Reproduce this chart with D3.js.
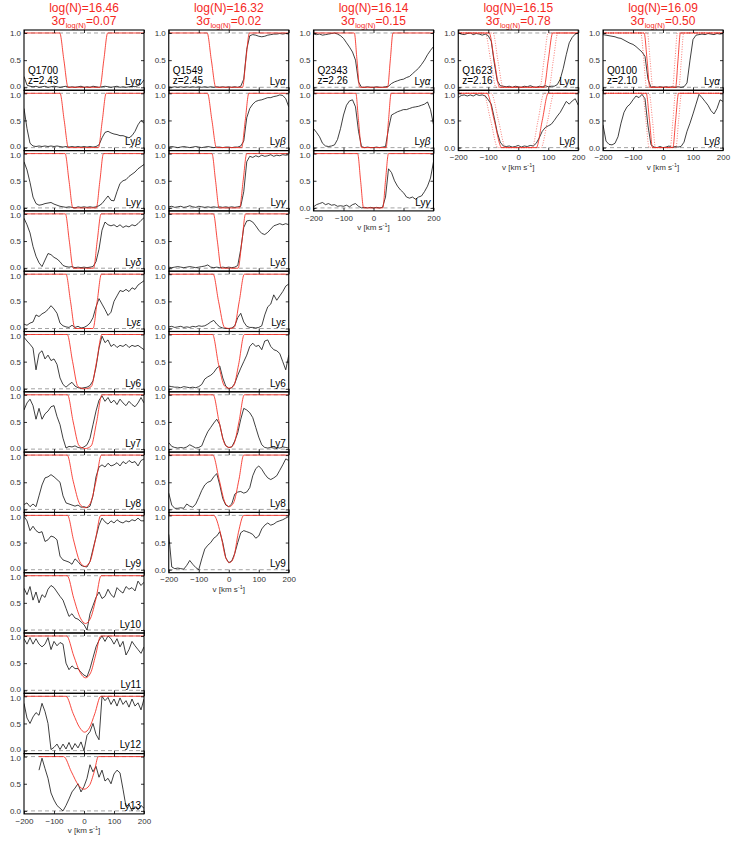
<!DOCTYPE html>
<html lang="en">
<head>
<meta charset="UTF-8">
<title>Lyman series fits</title>
<script src="https://d3js.org/d3.v7.min.js"></script>
<style>
  body { margin: 0; background: #fff; }
  text { font-family: "Liberation Sans", Arial, Helvetica, sans-serif; }
</style>
</head>
<body>
<script>
// quasar sightlines, one column each
var quasars = ['Q1700', 'Q1549', 'Q2343', 'Q1623', 'Q0100']
var redshifts = ['2.43', '2.45', '2.26', '2.16', '2.10']
var logN = ['16.46', '16.32', '16.14', '16.15', '16.09']
var sigma3 = ['0.07', '0.02', '0.15', '0.78', '0.50']

// transition names (greek ones drawn in italic)
var lineNames = ['α', 'β', 'γ', 'δ', 'ε', '6', '7', '8', '9', '10', '11', '12', '13']

// x ticks
var velTicks = [-200, -100, 0, 100, 200]
var fluxTicks = [0, 0.5, 1]

// velocity grid (km/s) for all spectra
var velocity = [-200,-190,-180,-170,-160,-150,-140,-130,-120,-110,
                -100,-90,-80,-70,-60,-50,-40,-30,-20,-10,
                0,10,20,30,40,50,60,70,80,90,
                100,110,120,130,140,150,160,170,180,190,200]

// normalised flux
var fluxQ1700 = [
  [0.20,0.04,0.02,0.01,0.02,0.00,0.01,0.02,0.00,0.01, 0.02,0.01,0.00,0.01,0.02,0.00,0.01,0.00,0.01,0.02, 0.00,0.01,0.00,0.02,0.01,0.00,0.01,0.02,0.01,0.00, 0.01,0.02,0.00,0.01,0.00,0.01,0.02,0.01,0.03,0.06,0.14],
  [0.72,0.35,0.08,0.03,0.02,0.03,0.02,0.03,0.02,0.03, 0.02,0.03,0.02,0.01,0.02,0.01,0.02,0.01,0.02,0.01, 0.02,0.01,0.02,0.01,0.02,0.05,0.18,0.28,0.30,0.27, 0.25,0.24,0.22,0.22,0.20,0.18,0.22,0.30,0.42,0.50,0.45],
  [0.85,0.70,0.47,0.20,0.08,0.05,0.06,0.08,0.09,0.10, 0.07,0.05,0.03,0.02,0.01,0.02,0.01,0.00,0.02,0.01, 0.02,0.01,0.02,0.01,0.02,0.04,0.08,0.15,0.22,0.14, 0.13,0.30,0.45,0.50,0.52,0.58,0.62,0.66,0.72,0.76,0.80],
  [0.92,0.80,0.65,0.40,0.22,0.10,0.03,0.15,0.27,0.25, 0.20,0.17,0.12,0.05,0.03,0.02,0.03,0.01,0.02,0.01, 0.02,0.01,0.02,0.03,0.12,0.35,0.70,0.85,0.80,0.78, 0.80,0.76,0.80,0.75,0.78,0.76,0.80,0.78,0.82,0.88,0.93],
  [0.08,0.06,0.10,0.12,0.25,0.22,0.27,0.30,0.35,0.42, 0.36,0.28,0.10,0.05,0.03,0.02,0.06,0.02,0.04,0.01, 0.02,0.05,0.10,0.20,0.40,0.55,0.45,0.35,0.24,0.30, 0.50,0.60,0.70,0.68,0.72,0.68,0.75,0.72,0.80,0.84,0.88],
  [0.95,0.88,0.82,0.75,0.35,0.65,0.70,0.55,0.62,0.52, 0.55,0.45,0.20,0.08,0.03,0.08,0.12,0.05,0.02,0.01, 0.02,0.03,0.06,0.15,0.40,0.75,0.97,0.85,0.90,0.78, 0.82,0.76,0.80,0.78,0.82,0.76,0.80,0.78,0.80,0.76,0.72],
  [0.72,0.85,0.92,0.80,0.55,0.75,0.55,0.65,0.70,0.78, 0.80,0.60,0.45,0.20,0.02,0.05,0.04,0.06,0.03,0.02, 0.04,0.08,0.20,0.45,0.70,0.90,0.98,0.88,0.95,0.85, 0.90,0.82,0.92,0.85,0.80,0.88,0.82,0.78,0.85,0.95,0.85],
  [0.09,0.12,0.05,0.10,0.05,0.25,0.45,0.58,0.60,0.64, 0.60,0.55,0.50,0.25,0.12,0.10,0.08,0.06,0.08,0.04, 0.05,0.03,0.06,0.25,0.60,0.78,0.82,0.78,0.85,0.80, 0.82,0.86,0.80,0.88,0.84,0.90,0.86,0.88,0.80,0.90,0.93],
  [0.98,0.90,0.72,0.80,0.72,0.68,0.70,0.52,0.55,0.62, 0.60,0.55,0.25,0.18,0.16,0.14,0.10,0.20,0.15,0.08, 0.06,0.05,0.15,0.38,0.60,0.82,0.95,0.88,0.84,0.90, 0.86,0.92,0.88,0.86,0.90,0.88,0.92,0.90,0.95,0.90,0.90],
  [0.77,0.65,0.80,0.55,0.70,0.50,0.65,0.60,0.75,0.82, 0.78,0.70,0.62,0.55,0.40,0.25,0.30,0.22,0.20,0.15, 0.10,0.00,0.30,0.45,0.60,0.70,0.58,0.62,0.75,0.65, 0.60,0.78,0.72,0.68,0.80,0.75,0.78,0.72,0.90,0.82,0.88],
  [0.95,0.85,0.97,0.85,0.95,0.85,0.80,0.85,0.97,0.75, 0.90,0.82,0.88,0.85,0.50,0.38,0.45,0.40,0.40,0.33, 0.28,0.25,0.40,0.60,0.80,0.92,1.00,0.90,1.00,0.95, 0.85,0.95,0.80,0.90,0.65,0.75,0.90,0.82,0.75,0.68,0.80],
  [0.87,0.60,0.50,0.62,0.70,0.65,0.87,0.72,0.50,0.02, 0.06,0.12,0.02,0.12,0.03,0.15,0.02,0.13,0.05,0.16, 0.00,0.28,0.35,0.50,0.30,0.20,1.00,0.92,0.98,0.85, 0.95,0.82,0.97,0.85,0.92,0.80,0.95,0.82,0.88,0.75,0.95],
  [null,null,null,null,null,0.75,0.97,0.78,0.60,0.33, 0.20,0.10,0.05,0.00,0.10,0.22,0.35,0.42,0.50,0.35, 0.45,0.60,0.85,0.72,0.82,0.62,0.75,0.55,0.60,0.50, 0.68,0.75,0.70,0.40,0.08,0.12,0.00,0.08,0.02,0.10,0.05]
]
var fluxQ1549 = [
  [0.01,0.00,0.01,0.00,0.01,0.00,0.01,0.00,0.01,0.00, 0.01,0.00,0.01,0.00,0.01,0.00,0.01,0.00,0.01,0.00, 0.01,0.00,0.01,0.00,0.02,0.15,0.70,0.95,0.97,0.96, 0.94,0.93,0.94,0.96,0.97,0.98,0.98,0.99,0.98,0.99,0.98],
  [0.01,0.02,0.01,0.00,0.01,0.02,0.01,0.00,0.01,0.02, 0.01,0.00,0.01,0.02,0.01,0.00,0.01,0.01,0.00,0.01, 0.01,0.00,0.01,0.01,0.03,0.12,0.55,0.72,0.80,0.85, 0.87,0.88,0.90,0.92,0.92,0.94,0.95,0.97,0.96,0.90,0.75],
  [0.02,0.03,0.01,0.02,0.03,0.01,0.02,0.04,0.02,0.01, 0.03,0.02,0.01,0.02,0.01,0.02,0.01,0.02,0.01,0.02, 0.01,0.02,0.01,0.02,0.03,0.30,0.85,0.95,0.93,0.96, 0.94,0.97,0.95,0.96,0.98,0.95,0.97,0.96,0.98,0.97,0.98],
  [0.02,0.01,0.02,0.03,0.02,0.01,0.02,0.03,0.02,0.01, 0.02,0.03,0.04,0.06,0.02,0.01,0.02,0.01,0.02,0.01, 0.02,0.01,0.02,0.05,0.35,0.75,0.87,0.88,0.85,0.78, 0.70,0.64,0.62,0.66,0.72,0.78,0.80,0.82,0.80,0.82,0.80],
  [0.03,0.04,0.02,0.03,0.04,0.02,0.03,0.02,0.04,0.03, 0.05,0.04,0.05,0.08,0.12,0.15,0.08,0.03,0.01,0.00, 0.00,0.01,0.05,0.20,0.28,0.12,0.04,0.02,0.02,0.01, 0.02,0.05,0.25,0.40,0.45,0.62,0.52,0.60,0.68,0.78,0.82],
  [0.05,0.04,0.03,0.03,0.02,0.04,0.03,0.02,0.03,0.02, 0.04,0.08,0.18,0.22,0.25,0.30,0.38,0.42,0.20,0.05, 0.00,0.02,0.10,0.25,0.38,0.50,0.62,0.78,0.84,0.78, 0.80,0.72,0.88,0.90,0.78,0.72,0.70,0.65,0.50,0.35,0.62],
  [0.12,0.05,0.03,0.02,0.03,0.02,0.04,0.08,0.05,0.02, 0.03,0.06,0.20,0.32,0.40,0.48,0.55,0.45,0.20,0.06, 0.03,0.04,0.15,0.30,0.55,0.75,0.72,0.67,0.58,0.40, 0.22,0.08,0.03,0.02,0.03,0.02,0.03,0.02,0.04,0.03,0.02],
  [0.30,0.08,0.02,0.02,0.03,0.02,0.10,0.06,0.04,0.10, 0.22,0.35,0.45,0.50,0.52,0.60,0.66,0.45,0.20,0.08, 0.05,0.10,0.28,0.32,0.33,0.30,0.32,0.40,0.62,0.75, 0.80,0.74,0.65,0.58,0.55,0.58,0.62,0.72,0.82,0.93,0.90],
  [0.65,0.05,0.02,0.03,0.02,0.01,0.08,0.17,0.10,0.04, 0.00,0.20,0.38,0.45,0.50,0.58,0.62,0.70,0.50,0.22, 0.13,0.16,0.30,0.50,0.68,0.72,0.70,0.68,0.65,0.58, 0.62,0.75,0.82,0.86,0.82,0.84,0.88,0.90,0.92,0.95,0.98]
]
var fluxQ2343 = [
  [0.98,0.97,0.98,0.96,0.97,0.98,0.99,1.00,0.98,0.95, 0.90,0.82,0.74,0.65,0.50,0.10,0.00,0.00,0.01,0.00, 0.00,0.01,0.00,0.00,0.01,0.02,0.07,0.10,0.12,0.14, 0.15,0.18,0.20,0.25,0.30,0.35,0.42,0.50,0.60,0.68,0.75],
  [0.35,0.28,0.20,0.08,0.03,0.02,0.03,0.05,0.15,0.35, 0.60,0.78,0.86,0.88,0.75,0.30,0.02,0.00,0.01,0.00, 0.00,0.01,0.00,0.01,0.02,0.35,0.60,0.63,0.66,0.68, 0.70,0.70,0.72,0.74,0.75,0.76,0.78,0.80,0.84,0.70,0.42],
  [0.02,0.06,0.08,0.10,0.06,0.08,0.05,0.06,0.03,0.04, 0.03,0.05,0.02,0.06,0.08,0.03,0.00,0.01,0.00,0.01, 0.00,0.01,0.00,0.01,0.20,0.72,0.65,0.50,0.40,0.33, 0.28,0.20,0.18,0.20,0.16,0.20,0.22,0.30,0.40,0.55,0.85]
]
var fluxQ1623 = [
  [1.00,0.98,0.97,0.99,1.00,0.97,0.99,0.98,0.96,0.98, 0.95,0.85,0.45,0.12,0.03,0.02,0.01,0.02,0.00,0.02, 0.01,0.00,0.02,0.01,0.03,0.01,0.00,0.02,0.01,0.03, 0.01,0.02,0.02,0.05,0.15,0.35,0.60,0.82,0.92,0.98,1.00],
  [0.92,0.96,0.97,0.95,0.97,0.95,0.98,0.96,0.97,0.95, 0.88,0.80,0.55,0.28,0.10,0.03,0.02,0.03,0.01,0.02, 0.04,0.01,0.03,0.02,0.04,0.03,0.08,0.18,0.30,0.37, 0.40,0.43,0.50,0.58,0.65,0.75,0.85,0.80,0.86,0.90,0.78]
]
var fluxQ0100 = [
  [0.97,0.96,0.95,0.94,0.93,0.91,0.90,0.87,0.84,0.81, 0.79,0.75,0.70,0.65,0.57,0.15,0.00,0.01,0.00,0.01, 0.00,0.01,0.00,0.01,0.00,0.01,0.00,0.01,0.08,0.50, 0.88,0.96,0.97,0.98,0.97,0.99,0.98,0.97,0.99,0.98,0.99],
  [0.42,0.12,0.06,0.05,0.08,0.20,0.45,0.65,0.75,0.80, 0.88,0.95,0.92,0.98,0.90,0.40,0.05,0.01,0.00,0.02, 0.00,0.01,0.03,0.00,0.02,0.01,0.02,0.10,0.30,0.45, 0.62,0.80,0.98,0.92,0.85,0.78,0.68,0.62,0.72,0.88,0.85]
]

// best-fit model profiles, [velocity, flux]
var fitQ1700 = [
  [[-200,1],[-81,1],[-67,0.5],[-53,0],[53,0],[66,0.5],[79,1],[200,1]],
  [[-200,1],[-80,1],[-66,0.5],[-52,0],[48,0],[61,0.5],[74,1],[200,1]],
  [[-200,1],[-63,1],[-50,0.5],[-37,0],[41,0],[53,0.5],[65,1],[200,1]],
  [[-200,1],[-62,1],[-49,0.5],[-36,0],[32,0],[44,0.5],[57,1],[200,1]],
  [[-200,1],[-60,1],[-45,0.5],[-30,0],[30,0],[44,0.5],[58,1],[200,1]],
  [[-200,1],[-56,1],[-38,0.5],[-20,0.04],[2,0],[24,0.04],[42,0.5],[60,1],[200,1]],
  [[-200,1],[-55,1],[-36,0.5],[-16,0.06],[4,0.01],[24,0.06],[42,0.5],[60,1],[200,1]],
  [[-200,1],[-56,1],[-36,0.52],[-14,0.1],[3,0.03],[20,0.1],[40,0.52],[58,1],[200,1]],
  [[-200,1],[-55,1],[-35,0.55],[-14,0.15],[3,0.06],[20,0.15],[38,0.55],[56,1],[200,1]],
  [[-200,1],[-56,1],[-34,0.58],[-12,0.22],[5,0.12],[22,0.22],[40,0.58],[57,1],[200,1]],
  [[-200,1],[-58,1],[-34,0.63],[-12,0.32],[5,0.23],[22,0.32],[38,0.63],[56,1],[200,1]],
  [[-200,1],[-60,1],[-36,0.68],[-14,0.42],[2,0.34],[18,0.42],[36,0.68],[56,1],[200,1]],
  [[-150,1],[-68,1],[-42,0.72],[-18,0.47],[0,0.4],[18,0.47],[34,0.72],[48,1],[200,1]]
]
var fitQ1549 = [
  [[-200,1],[-72,1],[-58,0.5],[-43,0],[46,0],[57,0.5],[69,1],[200,1]],
  [[-200,1],[-71,1],[-56,0.5],[-41,0],[43,0],[55,0.5],[67,1],[200,1]],
  [[-200,1],[-56,1],[-44,0.5],[-32,0],[36,0],[48,0.5],[60,1],[200,1]],
  [[-200,1],[-51,1],[-38,0.5],[-25,0],[31,0],[44,0.5],[56,1],[200,1]],
  [[-200,1],[-52,1],[-34,0.5],[-14,0.02],[2,0],[18,0.02],[35,0.5],[52,1],[200,1]],
  [[-200,1],[-54,1],[-34,0.45],[-14,0.05],[1,0.01],[16,0.05],[33,0.45],[52,1],[200,1]],
  [[-200,1],[-52,1],[-32,0.5],[-12,0.08],[2,0.03],[16,0.08],[34,0.5],[52,1],[200,1]],
  [[-200,1],[-53,1],[-32,0.55],[-12,0.12],[2,0.05],[16,0.12],[34,0.55],[50,1],[200,1]],
  [[-200,1],[-50,1],[-28,0.68],[-10,0.22],[3,0.13],[16,0.22],[32,0.68],[50,1],[200,1]]
]
var fitQ2343 = [
  [[-200,1],[-64,1],[-55,0.5],[-46,0],[47,0],[56,0.5],[65,1],[200,1]],
  [[-200,1],[-59,1],[-50,0.5],[-40,0],[42,0],[50,0.5],[59,1],[200,1]],
  [[-200,1],[-53,1],[-43,0.5],[-33,0],[31,0],[40,0.5],[50,1],[200,1]]
]
var fitQ1623 = [
  [[-200,1],[-97,1],[-80,0.5],[-62,0],[86,0],[100,0.5],[115,1],[200,1]],
  [[-200,1],[-104,1],[-80,0.5],[-55,0],[60,0],[80,0.5],[100,1],[200,1]]
]
var fitQ0100 = [
  [[-200,1],[-63,1],[-53,0.5],[-44,0],[42,0],[50,0.5],[58,1],[200,1]],
  [[-200,1],[-56,1],[-45,0.5],[-35,0],[33,0],[42,0.5],[52,1],[200,1]]
]
// models at -3 sigma and +3 sigma in log(N) (dotted)
var fitLowQ1623 = [
  [[-200,1],[-84,1],[-68,0.5],[-50,0],[72,0],[86,0.5],[100,1],[200,1]],
  [[-200,1],[-90,1],[-66,0.5],[-42,0],[46,0],[66,0.5],[86,1],[200,1]]
]
var fitHighQ1623 = [
  [[-200,1],[-110,1],[-92,0.5],[-74,0],[102,0],[117,0.5],[132,1],[200,1]],
  [[-200,1],[-116,1],[-92,0.5],[-68,0],[76,0],[98,0.5],[120,1],[200,1]]
]
var fitLowQ0100 = [
  [[-200,1],[-52,1],[-43,0.5],[-34,0],[32,0],[40,0.5],[48,1],[200,1]],
  [[-200,1],[-46,1],[-35,0.5],[-25,0],[24,0],[33,0.5],[42,1],[200,1]]
]
var fitHighQ0100 = [
  [[-200,1],[-74,1],[-64,0.5],[-55,0],[53,0],[61,0.5],[69,1],[200,1]],
  [[-200,1],[-68,1],[-57,0.5],[-46,0],[43,0],[52,0.5],[62,1],[200,1]]
]

var spectra = [fluxQ1700, fluxQ1549, fluxQ2343, fluxQ1623, fluxQ0100]
var fits = [fitQ1700, fitQ1549, fitQ2343, fitQ1623, fitQ0100]
var fitsLow = [null, null, null, fitLowQ1623, fitLowQ0100]
var fitsHigh = [null, null, null, fitHighQ1623, fitHighQ0100]

// layout
var width = 747, height = 845
var colLeft = 24, colStep = 144.75, panelW = 120
var rowTop = 30, rowStep = 60.3
var red = '#f5281e'

var svg = d3.select('body').append('svg')
    .attr('width', width)
    .attr('height', height)

function styleAxis(g) {
    g.select('.domain').remove()
    g.selectAll('line').attr('stroke', '#000').attr('stroke-width', 0.8)
    g.selectAll('text').attr('font-size', 8).attr('fill', '#333')
        .attr('font-family', '"Liberation Sans", Arial, sans-serif')
}

function drawPanel(c, r) {
    var left = colLeft + c * colStep
    var top = rowTop + r * rowStep
    var nRows = spectra[c].length
    var isLast = (r === nRows - 1)

    var x = d3.scaleLinear().domain([-200, 200]).range([left, left + panelW])
    var y = d3.scaleLinear().domain([-0.055, 1.055]).range([top + rowStep, top])

    var g = svg.append('g')
    var clipId = 'clip-' + c + '-' + r
    g.append('clipPath').attr('id', clipId)
        .append('rect')
        .attr('x', left).attr('y', top)
        .attr('width', panelW).attr('height', rowStep)

    var inner = g.append('g').attr('clip-path', 'url(#' + clipId + ')')

    // continuum and zero level
    inner.selectAll('line.ref')
        .data([0, 1])
        .enter().append('line')
        .attr('class', 'ref')
        .attr('x1', left).attr('x2', left + panelW)
        .attr('y1', function(d) { return y(d) })
        .attr('y2', function(d) { return y(d) })
        .attr('stroke', '#999')
        .attr('stroke-width', 0.9)
        .attr('stroke-dasharray', '4,3')

    // observed spectrum
    var pts = velocity.map(function(v, i) { return [v, spectra[c][r][i]] })
    var specLine = d3.line()
        .defined(function(d) { return d[1] !== null })
        .x(function(d) { return x(d[0]) })
        .y(function(d) { return y(d[1]) })
    inner.append('path')
        .attr('d', specLine(pts))
        .attr('fill', 'none')
        .attr('stroke', '#000')
        .attr('stroke-width', 0.75)

    // model curves
    var modelLine = d3.line()
        .curve(d3.curveMonotoneX)
        .x(function(d) { return x(d[0]) })
        .y(function(d) { return y(d[1]) })
    ;[fitsLow[c], fitsHigh[c]].forEach(function(set) {
        if (!set) return
        inner.append('path')
            .attr('d', modelLine(set[r]))
            .attr('fill', 'none')
            .attr('stroke', red)
            .attr('stroke-width', 0.8)
            .attr('stroke-dasharray', '1,1.5')
            .attr('opacity', 0.75)
    })
    inner.append('path')
        .attr('d', modelLine(fits[c][r]))
        .attr('fill', 'none')
        .attr('stroke', red)
        .attr('stroke-width', 0.85)

    // axes, ticks pointing inwards
    var yAxis = g.append('g')
        .attr('transform', 'translate(' + left + ',0)')
        .call(d3.axisLeft(y).tickValues(fluxTicks).tickSize(-3).tickPadding(3)
            .tickFormat(d3.format('.1f')))
        .call(styleAxis)
    // keep the 0.0 / 1.0 labels of stacked panels apart
    yAxis.selectAll('.tick text')
        .attr('dy', function(d) {
            if (d === 1 && r > 0) return '0.5em'
            if (d === 0 && !isLast) return '0.15em'
            return '0.32em'
        })
    g.append('g')
        .attr('transform', 'translate(' + (left + panelW) + ',0)')
        .call(d3.axisRight(y).tickValues(fluxTicks).tickSize(-3).tickFormat(''))
        .call(styleAxis)
    g.append('g')
        .attr('transform', 'translate(0,' + top + ')')
        .call(d3.axisTop(x).tickValues(velTicks).tickSize(-3).tickFormat(''))
        .call(styleAxis)
    g.append('g')
        .attr('transform', 'translate(0,' + (top + rowStep) + ')')
        .call(d3.axisBottom(x).tickValues(velTicks).tickSize(-3).tickPadding(4)
            .tickFormat(isLast ? d3.format('d') : ''))
        .call(styleAxis)

    // frame
    g.append('rect')
        .attr('x', left).attr('y', top)
        .attr('width', panelW).attr('height', rowStep)
        .attr('fill', 'none')
        .attr('stroke', '#000')
        .attr('stroke-width', 1.1)

    // transition label
    var lab = g.append('text')
        .attr('x', left + panelW - 3)
        .attr('y', top + 55)
        .attr('text-anchor', 'end')
        .attr('font-size', 10)
        .text('Ly')
    lab.append('tspan')
        .attr('font-style', r < 5 ? 'italic' : 'normal')
        .text(lineNames[r])

    // sightline name on the first panel
    if (r === 0) {
        g.append('text')
            .attr('x', left + 4).attr('y', top + 44)
            .attr('font-size', 10)
            .text(quasars[c])
        g.append('text')
            .attr('x', left + 4).attr('y', top + 54)
            .attr('font-size', 10)
            .text('z=' + redshifts[c])
    }

    // x axis title under the last panel
    if (isLast) {
        var t = g.append('text')
            .attr('x', left + panelW / 2)
            .attr('y', top + rowStep + 19.5)
            .attr('text-anchor', 'middle')
            .attr('font-size', 8)
            .attr('fill', '#333')
            .text('v [km s')
        t.append('tspan').attr('dy', -3).attr('font-size', 5.5).text('-1')
        t.append('tspan').attr('dy', 3).text(']')
    }
}

quasars.forEach(function(q, c) {
    var cx = colLeft + c * colStep + panelW / 2

    svg.append('text')
        .attr('x', cx).attr('y', 12)
        .attr('text-anchor', 'middle')
        .attr('font-size', 12)
        .attr('fill', red)
        .text('log(N)=' + logN[c])

    var s = svg.append('text')
        .attr('x', cx).attr('y', 25)
        .attr('text-anchor', 'middle')
        .attr('font-size', 12)
        .attr('fill', red)
    s.append('tspan').text('3σ')
    s.append('tspan').attr('font-size', 7.5).attr('dy', 3).text('log(N)')
    s.append('tspan').attr('dy', -3).text('=' + sigma3[c])

    spectra[c].forEach(function(f, r) { drawPanel(c, r) })
})
</script>
</body>
</html>
